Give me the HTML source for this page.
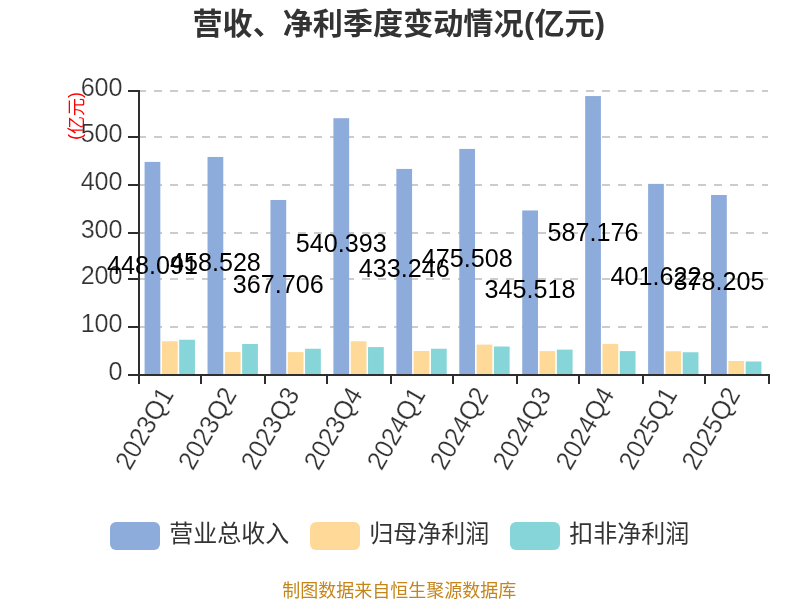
<!DOCTYPE html>
<html lang="zh-CN">
<head>
<meta charset="utf-8">
<title>营收、净利季度变动情况(亿元)</title>
<style>
html,body{margin:0;padding:0;background:#fff;}
body{width:800px;height:600px;overflow:hidden;font-family:"Liberation Sans","Noto Sans CJK SC",sans-serif;}
svg{display:block;}
</style>
</head>
<body>
<svg width="800" height="600" viewBox="0 0 800 600" font-family="'Liberation Sans','Noto Sans CJK SC',sans-serif">
<rect width="800" height="600" fill="#fff"/>
<text y="33.5" font-size="30.1" font-weight="bold" fill="#333"><tspan x="192.5">营收、净利季度变动情况</tspan><tspan x="523.9">(</tspan><tspan x="534.5">亿元</tspan><tspan x="595">)</tspan></text>
<line x1="138" y1="327" x2="768" y2="327" stroke="#ccc" stroke-width="2" stroke-dasharray="8 8" shape-rendering="crispEdges"/>
<line x1="138" y1="279" x2="768" y2="279" stroke="#ccc" stroke-width="2" stroke-dasharray="8 8" shape-rendering="crispEdges"/>
<line x1="138" y1="233" x2="768" y2="233" stroke="#ccc" stroke-width="2" stroke-dasharray="8 8" shape-rendering="crispEdges"/>
<line x1="138" y1="185" x2="768" y2="185" stroke="#ccc" stroke-width="2" stroke-dasharray="8 8" shape-rendering="crispEdges"/>
<line x1="138" y1="137" x2="768" y2="137" stroke="#ccc" stroke-width="2" stroke-dasharray="8 8" shape-rendering="crispEdges"/>
<line x1="138" y1="91" x2="768" y2="91" stroke="#ccc" stroke-width="2" stroke-dasharray="8 8" shape-rendering="crispEdges"/>
<rect x="144.594" y="161.904" width="15.735" height="212.096" fill="#8dabdb"/>
<rect x="161.903" y="341.250" width="15.735" height="32.750" fill="#ffd998"/>
<rect x="179.211" y="339.750" width="15.735" height="34.250" fill="#86d5d8"/>
<rect x="207.534" y="156.963" width="15.735" height="217.037" fill="#8dabdb"/>
<rect x="224.843" y="352.000" width="15.735" height="22.000" fill="#ffd998"/>
<rect x="242.151" y="344.000" width="15.735" height="30.000" fill="#86d5d8"/>
<rect x="270.474" y="199.952" width="15.735" height="174.048" fill="#8dabdb"/>
<rect x="287.783" y="352.100" width="15.735" height="21.900" fill="#ffd998"/>
<rect x="305.091" y="348.750" width="15.735" height="25.250" fill="#86d5d8"/>
<rect x="333.414" y="118.214" width="15.735" height="255.786" fill="#8dabdb"/>
<rect x="350.723" y="341.250" width="15.735" height="32.750" fill="#ffd998"/>
<rect x="368.031" y="347.100" width="15.735" height="26.900" fill="#86d5d8"/>
<rect x="396.354" y="168.930" width="15.735" height="205.070" fill="#8dabdb"/>
<rect x="413.663" y="351.000" width="15.735" height="23.000" fill="#ffd998"/>
<rect x="430.971" y="348.750" width="15.735" height="25.250" fill="#86d5d8"/>
<rect x="459.294" y="148.926" width="15.735" height="225.074" fill="#8dabdb"/>
<rect x="476.603" y="344.600" width="15.735" height="29.400" fill="#ffd998"/>
<rect x="493.911" y="346.500" width="15.735" height="27.500" fill="#86d5d8"/>
<rect x="522.234" y="210.455" width="15.735" height="163.545" fill="#8dabdb"/>
<rect x="539.543" y="351.100" width="15.735" height="22.900" fill="#ffd998"/>
<rect x="556.851" y="349.600" width="15.735" height="24.400" fill="#86d5d8"/>
<rect x="585.174" y="96.070" width="15.735" height="277.930" fill="#8dabdb"/>
<rect x="602.483" y="343.900" width="15.735" height="30.100" fill="#ffd998"/>
<rect x="619.791" y="351.100" width="15.735" height="22.900" fill="#86d5d8"/>
<rect x="648.114" y="183.899" width="15.735" height="190.101" fill="#8dabdb"/>
<rect x="665.423" y="351.250" width="15.735" height="22.750" fill="#ffd998"/>
<rect x="682.731" y="352.250" width="15.735" height="21.750" fill="#86d5d8"/>
<rect x="711.054" y="194.983" width="15.735" height="179.017" fill="#8dabdb"/>
<rect x="728.363" y="361.000" width="15.735" height="13.000" fill="#ffd998"/>
<rect x="745.671" y="361.500" width="15.735" height="12.500" fill="#86d5d8"/>
<g stroke="#2e2e2e" stroke-width="2" shape-rendering="crispEdges">
<line x1="139" y1="90" x2="139" y2="376"/>
<line x1="128" y1="375" x2="770" y2="375"/>
<line x1="128" y1="375" x2="139" y2="375"/>
<line x1="128" y1="327" x2="139" y2="327"/>
<line x1="128" y1="279" x2="139" y2="279"/>
<line x1="128" y1="233" x2="139" y2="233"/>
<line x1="128" y1="185" x2="139" y2="185"/>
<line x1="128" y1="137" x2="139" y2="137"/>
<line x1="128" y1="91" x2="139" y2="91"/>
<line x1="139" y1="375" x2="139" y2="384"/>
<line x1="201" y1="375" x2="201" y2="384"/>
<line x1="265" y1="375" x2="265" y2="384"/>
<line x1="327" y1="375" x2="327" y2="384"/>
<line x1="391" y1="375" x2="391" y2="384"/>
<line x1="453" y1="375" x2="453" y2="384"/>
<line x1="517" y1="375" x2="517" y2="384"/>
<line x1="579" y1="375" x2="579" y2="384"/>
<line x1="643" y1="375" x2="643" y2="384"/>
<line x1="705" y1="375" x2="705" y2="384"/>
<line x1="769" y1="375" x2="769" y2="384"/>
</g>
<text transform="translate(83 116) rotate(-90)" text-anchor="middle" font-size="18" fill="#f00"><tspan dy="-2">(</tspan><tspan dy="2">亿元</tspan><tspan dy="-2">)</tspan></text>
<g font-size="26.5" fill="#333" text-anchor="end" stroke="#fff" stroke-width="0.22">
<text transform="translate(122.6 380.3) scale(0.95 1)">0</text>
<text transform="translate(122.6 332.3) scale(0.95 1)">100</text>
<text transform="translate(122.6 284.3) scale(0.95 1)">200</text>
<text transform="translate(122.6 238.3) scale(0.95 1)">300</text>
<text transform="translate(122.6 190.3) scale(0.95 1)">400</text>
<text transform="translate(122.6 142.3) scale(0.95 1)">500</text>
<text transform="translate(122.6 96.3) scale(0.95 1)">600</text>
</g>
<g font-size="26.5" fill="#333" text-anchor="end" stroke="#fff" stroke-width="0.22">
<text transform="translate(169.27 391) rotate(-60) scale(0.95 1)" x="0" y="6">2023Q1</text>
<text transform="translate(232.21 391) rotate(-60) scale(0.95 1)" x="0" y="6">2023Q2</text>
<text transform="translate(295.15 391) rotate(-60) scale(0.95 1)" x="0" y="6">2023Q3</text>
<text transform="translate(358.09 391) rotate(-60) scale(0.95 1)" x="0" y="6">2023Q4</text>
<text transform="translate(421.03 391) rotate(-60) scale(0.95 1)" x="0" y="6">2024Q1</text>
<text transform="translate(483.97 391) rotate(-60) scale(0.95 1)" x="0" y="6">2024Q2</text>
<text transform="translate(546.91 391) rotate(-60) scale(0.95 1)" x="0" y="6">2024Q3</text>
<text transform="translate(609.85 391) rotate(-60) scale(0.95 1)" x="0" y="6">2024Q4</text>
<text transform="translate(672.79 391) rotate(-60) scale(0.95 1)" x="0" y="6">2025Q1</text>
<text transform="translate(735.73 391) rotate(-60) scale(0.95 1)" x="0" y="6">2025Q2</text>
</g>
<g font-size="26.5" fill="#000" text-anchor="middle">
<text transform="translate(152.46 273.65) scale(0.95 1)">448.091</text>
<text transform="translate(215.40 271.18) scale(0.95 1)">458.528</text>
<text transform="translate(278.34 292.68) scale(0.95 1)">367.706</text>
<text transform="translate(341.28 251.81) scale(0.95 1)">540.393</text>
<text transform="translate(404.22 277.17) scale(0.95 1)">433.246</text>
<text transform="translate(467.16 267.16) scale(0.95 1)">475.508</text>
<text transform="translate(530.10 297.93) scale(0.95 1)">345.518</text>
<text transform="translate(593.04 240.74) scale(0.95 1)">587.176</text>
<text transform="translate(655.98 284.65) scale(0.95 1)">401.622</text>
<text transform="translate(718.92 290.19) scale(0.95 1)">378.205</text>
</g>
<rect x="110" y="522" width="50" height="28" rx="6" ry="6" fill="#8dabdb"/>
<text x="169.2" y="542" font-size="24" fill="#333">营业总收入</text>
<rect x="310" y="522" width="50" height="28" rx="6" ry="6" fill="#ffd998"/>
<text x="369.2" y="542" font-size="24" fill="#333">归母净利润</text>
<rect x="510" y="522" width="50" height="28" rx="6" ry="6" fill="#86d5d8"/>
<text x="569.2" y="542" font-size="24" fill="#333">扣非净利润</text>
<text x="399.3" y="596.7" text-anchor="middle" font-size="18" fill="#c4861a">制图数据来自恒生聚源数据库</text>
</svg>
</body>
</html>
